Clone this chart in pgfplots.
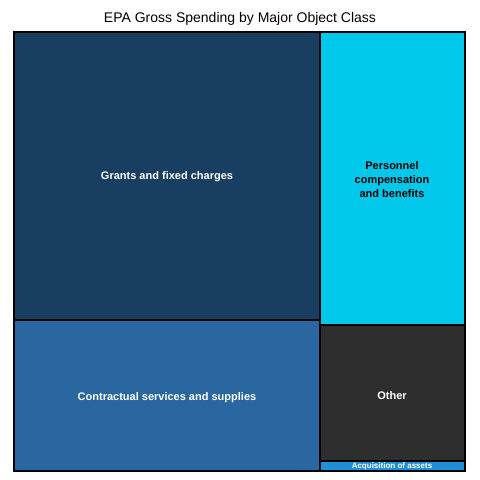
\documentclass[border=0pt]{standalone}
\usepackage{pgfplots}
\pgfplotsset{compat=1.18}
\usepackage{fontspec}
\setmainfont{Liberation Sans}
\definecolor{cA}{HTML}{183E62}
\definecolor{cB}{HTML}{2A67A0}
\definecolor{cC}{HTML}{00C8EA}
\definecolor{cD}{HTML}{2E2E2E}
\definecolor{cE}{HTML}{1F8FD8}
\begin{document}
\begin{tikzpicture}
\begin{axis}[width=480pt,height=480pt,scale only axis,xmin=0,xmax=480,ymin=0,ymax=480,y dir=reverse,hide axis,clip=false]
\path[use as bounding box] (axis cs:0,0) rectangle (axis cs:480,480);
\addplot[fill=cA,draw=black,line width=1.5pt] coordinates {(14,32)(320,32)(320,320)(14,320)} --cycle;
\addplot[fill=cB,draw=black,line width=1.5pt] coordinates {(14,320)(320,320)(320,471)(14,471)} --cycle;
\addplot[fill=cC,draw=black,line width=1.5pt] coordinates {(320,32)(465,32)(465,325)(320,325)} --cycle;
\addplot[fill=cD,draw=black,line width=1.5pt] coordinates {(320,325)(465,325)(465,461)(320,461)} --cycle;
\addplot[fill=cE,draw=black,line width=1.5pt] coordinates {(320,461)(465,461)(465,471)(320,471)} --cycle;
\node[font=\fontsize{11}{13}\selectfont\bfseries,text=white] at (axis cs:167,177) {Grants and fixed charges};
\node[font=\fontsize{11}{13}\selectfont\bfseries,text=white] at (axis cs:167,398) {Contractual services and supplies};
\node[font=\fontsize{11}{14}\selectfont\bfseries,text=black,align=center] at (axis cs:392,180) {Personnel\\compensation\\and benefits};
\node[font=\fontsize{11}{13}\selectfont\bfseries,text=white] at (axis cs:392,396) {Other};
\node[font=\fontsize{8}{9}\selectfont\bfseries,text=white] at (axis cs:392,466.5) {Acquisition of assets};
\node[font=\fontsize{14}{16}\selectfont] at (axis cs:240,19) {EPA Gross Spending by Major Object Class};
\end{axis}
\end{tikzpicture}
\end{document}
